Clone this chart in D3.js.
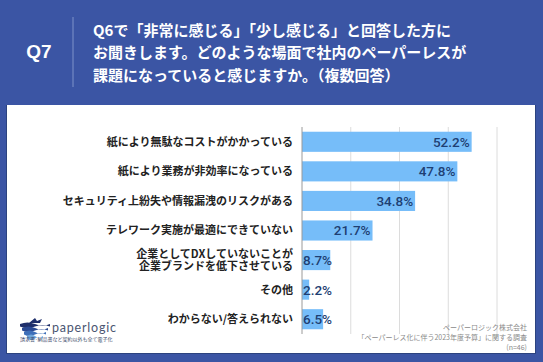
<!DOCTYPE html>
<html>
<head>
<meta charset="utf-8">
<script src="https://cdn.jsdelivr.net/npm/d3@7"></script>
<style>
  html, body { margin: 0; padding: 0; background: #3b55a4; }
  svg { display: block; font-family: "Noto Sans CJK JP", "Noto Sans", sans-serif; }
</style>
</head>
<body>
<svg id="chart" width="543" height="362"></svg>
<script>
'use strict';

const categories = [
  ['紙により無駄なコストがかかっている'],
  ['紙により業務が非効率になっている'],
  ['セキュリティ上紛失や情報漏洩のリスクがある'],
  ['テレワーク実施が最適にできていない'],
  ['企業としてDXしていないことが', '企業ブランドを低下させている'],
  ['その他'],
  ['わからない/答えられない']
]
const values     = [52.2, 47.8, 34.8, 21.7, 8.7, 2.2, 6.5]
const xTicks     = [0, 15, 30, 45, 60]
const titleLines = [
  'Q6で「非常に感じる」「少し感じる」と回答した方に',
  'お聞きします。どのような場面で社内のペーパーレスが',
  '課題になっていると感じますか。（複数回答）'
]
const sourceLines = [
  'ペーパーロジック株式会社',
  '「ペーパーレス化に伴う2023年度予算」に関する調査',
  '(n=46)'
]

const svg = d3.select('#chart')

// header
svg.append('rect').attr('width', 543).attr('height', 362).attr('fill', '#3b55a4')
svg.append('text')
  .attr('x', 39).attr('y', 58)
  .attr('text-anchor', 'middle')
  .attr('fill', '#fff')
  .attr('font-size', 19).attr('font-weight', 700)
  .attr('font-family', '"Liberation Sans", Arial, sans-serif')
  .text('Q7')
svg.append('line')
  .attr('x1', 73).attr('x2', 73).attr('y1', 17).attr('y2', 87)
  .attr('stroke', '#7f93c9').attr('stroke-width', 1)
svg.selectAll('text.title')
  .data(titleLines)
  .enter()
  .append('text')
    .attr('class', 'title')
    .attr('x', 93)
    .attr('y', (d, i) => 36 + i * 22.3)
    .attr('fill', '#fff')
    .attr('font-size', 15).attr('font-weight', 700)
    .text((d) => d)

// card
svg.append('rect')
  .attr('x', 6).attr('y', 105).attr('width', 530).attr('height', 249)
  .attr('fill', '#2c437f')
svg.append('rect')
  .attr('x', 7).attr('y', 105).attr('width', 528).attr('height', 248)
  .attr('fill', '#fff')

const x = d3.scaleLinear().domain([0, 60]).range([302, 497])
const y = d3.scaleBand().domain(d3.range(values.length)).range([127, 334]).paddingInner(0.32).paddingOuter(0.16)

// grid
svg.selectAll('line.grid')
  .data(xTicks.slice(1))
  .enter()
  .append('line')
    .attr('class', 'grid')
    .attr('x1', (d) => x(d)).attr('x2', (d) => x(d))
    .attr('y1', 127).attr('y2', 334)
    .attr('stroke', '#dcdcdc').attr('stroke-width', 1)

// bars
svg.selectAll('rect.bar')
  .data(values)
  .enter()
  .append('rect')
    .attr('class', 'bar')
    .attr('x', x(0))
    .attr('y', (d, i) => y(i))
    .attr('width', (d) => x(d) - x(0))
    .attr('height', y.bandwidth())
    .attr('fill', '#76bdf9')

svg.append('line')
  .attr('x1', x(0)).attr('x2', x(0)).attr('y1', 127).attr('y2', 334)
  .attr('stroke', '#9a9a9a').attr('stroke-width', 1)

// value labels
svg.selectAll('text.value')
  .data(values)
  .enter()
  .append('text')
    .attr('class', 'value')
    .attr('x', (d) => d < 15 ? x(0) + 1 : x(d) - 2)
    .attr('y', (d, i) => y(i) + y.bandwidth() / 2)
    .attr('dy', '0.36em')
    .attr('text-anchor', (d) => d < 15 ? 'start' : 'end')
    .attr('fill', '#1e3f73')
    .attr('font-size', 13.5).attr('font-weight', 500)
    .attr('font-family', 'Roboto, "Noto Sans", sans-serif')
    .text((d) => d.toFixed(1) + '%')

// category labels (multi-line labels as tspans in one text)
categories.forEach((lines, i) => {
  const cy = y(i) + y.bandwidth() / 2
  const t = svg.append('text')
    .attr('text-anchor', 'end')
    .attr('fill', '#222')
    .attr('font-size', 11).attr('font-weight', 700)
  lines.forEach((line, li) => {
    t.append('tspan')
      .attr('x', 293)
      .attr('y', cy + (li - (lines.length - 1) / 2) * 12.5)
      .attr('dy', '0.36em')
      .text(line)
  })
})

// source
svg.selectAll('text.source')
  .data(sourceLines)
  .enter()
  .append('text')
    .attr('class', 'source')
    .attr('x', 527)
    .attr('y', (d, i) => 327 + i * 10)
    .attr('dy', '0.36em')
    .attr('text-anchor', 'end')
    .attr('fill', '#8a8a8a')
    .attr('font-size', 7)
    .text((d) => d)

// logo
const logo = svg.append('g').attr('transform', 'translate(20,318)')
const stripe = (y0, w) => `M${15 - w / 2},${y0} q${w / 4},-3 ${w / 2},0 t${w / 2},0 l0,2.6 q-${w / 4},-3 -${w / 2},0 t-${w / 2},0 Z`
;[[6, 30, '#1f2f6b'], [10, 26, '#2b4a94'], [14, 22, '#3f6fb8'], [18, 16, '#6fa6dc']].forEach(([y0, w, c]) => {
  logo.append('path').attr('d', stripe(y0, w)).attr('fill', c)
})
logo.append('path').attr('d', 'M9,5 l6,-5 l2,3 l5,-2 l-2,4 Z').attr('fill', '#1f2f6b')
logo.append('text')
  .attr('x', 32).attr('y', 14)
  .attr('fill', '#4a5572')
  .attr('font-size', 12.5).attr('letter-spacing', 0.8)
  .attr('font-family', 'Lato, "Noto Sans", sans-serif')
  .text('paperlogic')
logo.append('text')
  .attr('x', 0).attr('y', 23)
  .attr('fill', '#3d4a6b')
  .attr('font-size', 5)
  .text('請求書･納品書など契約以外も全て電子化')
</script>
</body>
</html>
